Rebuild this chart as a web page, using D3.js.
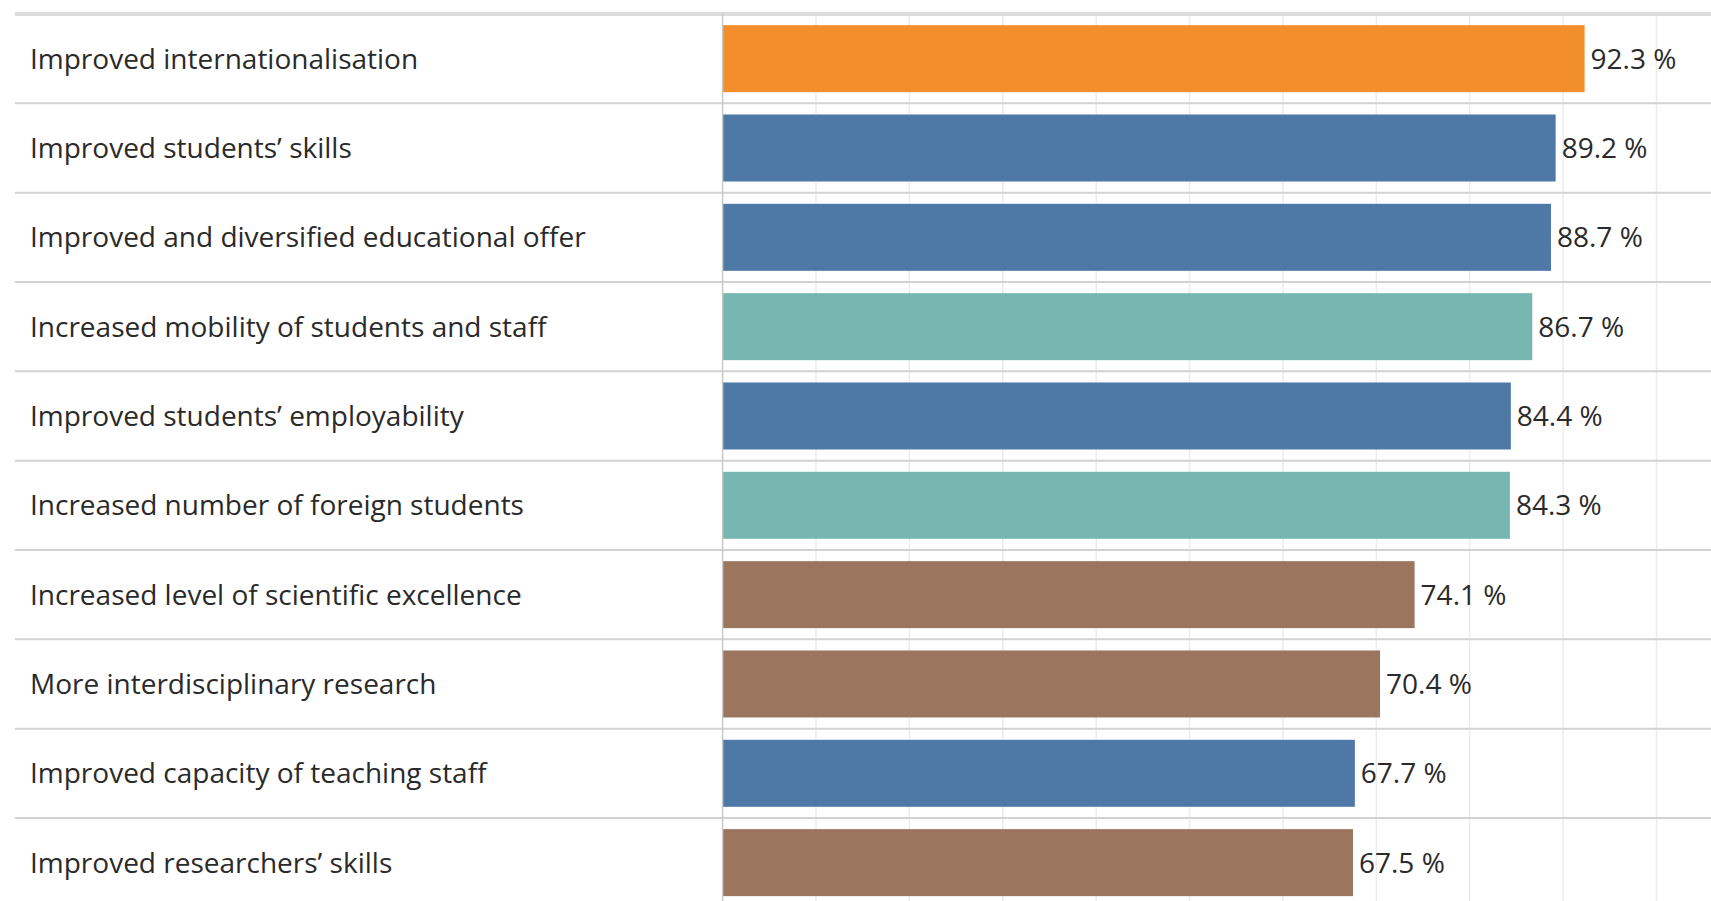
<!DOCTYPE html>
<html>
<head>
<meta charset="utf-8">
<script src="https://cdn.jsdelivr.net/npm/d3@7"></script>
<style>
  html, body { margin: 0; padding: 0; background: #fff; }
  svg { display: block; }
  text { font-family: "Open Sans", Lato, sans-serif; fill: #2a2a2a; }
</style>
</head>
<body>
<svg id="chart" width="1711" height="901"></svg>
<script>
// Share of respondents reporting each benefit
const categories = [
  "Improved internationalisation",
  "Improved students’ skills",
  "Improved and diversified educational offer",
  "Increased mobility of students and staff",
  "Improved students’ employability",
  "Increased number of foreign students",
  "Increased level of scientific excellence",
  "More interdisciplinary research",
  "Improved capacity of teaching staff",
  "Improved researchers’ skills"
];
const values = [92.3, 89.2, 88.7, 86.7, 84.4, 84.3, 74.1, 70.4, 67.7, 67.5];
const groups = [
  "Internationalisation", "Education", "Education", "Mobility", "Education",
  "Mobility", "Research", "Research", "Education", "Research"
];
const groupNames = ["Internationalisation", "Education", "Mobility", "Research"];
const groupColors = ["#F28E2B", "#4E79A7", "#76B7B2", "#9C755F"];
const gridTicks = [10, 20, 30, 40, 50, 60, 70, 80, 90, 100];

const W = 1711, H = 901;
const topY = 14, rowStep = 89.33;
const leftX = 15, axisX = 722.6;

const svg = d3.select("#chart");

const x = d3.scaleLinear().domain([0, 100]).range([axisX, 1656.5]);
const y = d3.scaleBand()
  .domain(categories)
  .range([topY, topY + rowStep * categories.length])
  .paddingInner(0.25)
  .paddingOuter(0.125);
const color = d3.scaleOrdinal().domain(groupNames).range(groupColors);

const rows = categories.map((c, i) => ({ c, v: values[i], g: groups[i] }));

// vertical gridlines
svg.append("g")
  .selectAll("line")
  .data(gridTicks)
  .join("line")
  .attr("x1", d => x(d)).attr("x2", d => x(d))
  .attr("y1", topY).attr("y2", H)
  .attr("stroke", "#ececec")
  .attr("stroke-width", 1.5);

// row separators
svg.append("g")
  .selectAll("line")
  .data(categories.slice(1))
  .join("line")
  .attr("x1", leftX).attr("x2", W)
  .attr("y1", d => y(d) - y.step() * y.paddingInner() / 2)
  .attr("y2", d => y(d) - y.step() * y.paddingInner() / 2)
  .attr("stroke", "#d2d2d2")
  .attr("stroke-width", 2);

// top rule
svg.append("line")
  .attr("x1", leftX).attr("x2", W)
  .attr("y1", topY).attr("y2", topY)
  .attr("stroke", "#dcdcdc")
  .attr("stroke-width", 4);

// bars
svg.append("g")
  .selectAll("rect")
  .data(rows)
  .join("rect")
  .attr("x", x(0))
  .attr("y", d => y(d.c))
  .attr("width", d => x(d.v) - x(0))
  .attr("height", y.bandwidth())
  .attr("fill", d => color(d.g));

// zero axis line
svg.append("line")
  .attr("x1", x(0)).attr("x2", x(0))
  .attr("y1", topY).attr("y2", H)
  .attr("stroke", "#c8c8c8")
  .attr("stroke-width", 1.5);

// category labels
svg.append("g")
  .selectAll("text")
  .data(rows)
  .join("text")
  .attr("x", 30)
  .attr("y", d => y(d.c) + y.bandwidth() / 2)
  .attr("dy", "0.36em")
  .style("font-size", "28px")
  .text(d => d.c);

// value labels
svg.append("g")
  .selectAll("text")
  .data(rows)
  .join("text")
  .attr("x", d => x(d.v) + 6)
  .attr("y", d => y(d.c) + y.bandwidth() / 2)
  .attr("dy", "0.36em")
  .style("font-size", "28px")
  .text(d => d.v.toFixed(1) + " %");
</script>
</body>
</html>
